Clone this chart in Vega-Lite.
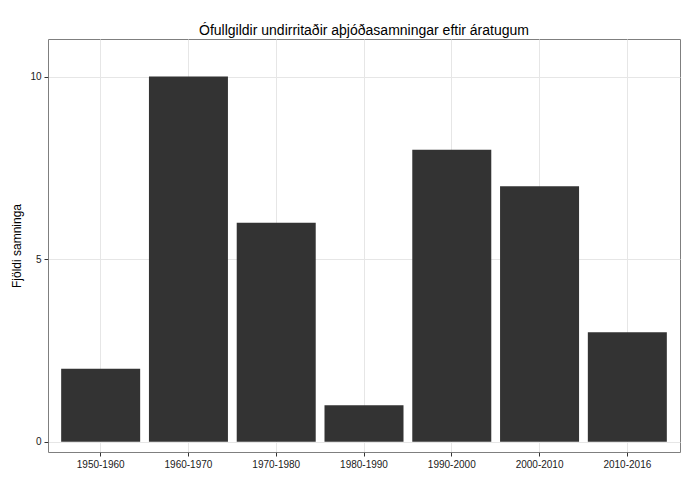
{
  "$schema": "https://vega.github.io/schema/vega-lite/v6.json",
  "autosize": {"type": "none"},
  "width": 632,
  "height": 413,
  "padding": {"left": 48, "top": 39, "right": 20, "bottom": 25},
  "background": "white",
  "title": {
    "text": "Ófullgildir undirritaðir aþjóðasamningar eftir áratugum",
    "font": "Liberation Sans",
    "fontSize": 14,
    "fontWeight": "normal",
    "color": "black",
    "offset": 1
  },
  "data": {
    "values": [
      {"decade": "1950-1960", "count": 2},
      {"decade": "1960-1970", "count": 10},
      {"decade": "1970-1980", "count": 6},
      {"decade": "1980-1990", "count": 1},
      {"decade": "1990-2000", "count": 8},
      {"decade": "2000-2010", "count": 7},
      {"decade": "2010-2016", "count": 3}
    ]
  },
  "mark": {"type": "bar", "color": "#333333"},
  "encoding": {
    "x": {
      "field": "decade",
      "type": "nominal",
      "sort": null,
      "scale": {"paddingInner": 0.1, "paddingOuter": 0.15},
      "axis": {
        "title": null,
        "labelAngle": 0,
        "labelFont": "Liberation Sans",
        "labelFontSize": 10,
        "labelColor": "#1a1a1a",
        "domain": false,
        "tickColor": "#333333",
        "tickSize": 4,
        "labelPadding": 3,
        "grid": true,
        "gridColor": "#e6e6e6",
        "bandPosition": 0.5
      }
    },
    "y": {
      "field": "count",
      "type": "quantitative",
      "scale": {"domain": [-0.28, 11.03], "nice": false, "zero": false},
      "axis": {
        "title": "Fjöldi samninga",
        "titleFont": "Liberation Sans",
        "titleFontSize": 12,
        "titleFontWeight": "normal",
        "titleColor": "black",
        "titlePadding": 6,
        "values": [0, 5, 10],
        "labelFont": "Liberation Sans",
        "labelFontSize": 10,
        "labelColor": "#1a1a1a",
        "domain": false,
        "tickColor": "#333333",
        "tickSize": 4,
        "labelPadding": 3,
        "gridColor": "#e6e6e6"
      }
    }
  },
  "config": {
    "view": {"stroke": "#7f7f7f", "strokeWidth": 1}
  }
}
